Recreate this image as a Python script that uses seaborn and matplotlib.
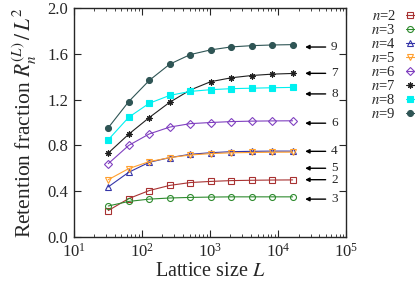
import numpy as np
import pandas as pd
import matplotlib
matplotlib.use("Agg")
import matplotlib.pyplot as plt
import seaborn as sns

# lattice sizes and retention fraction per n
lattice = [32, 64, 128, 256, 512, 1024, 2048, 4096, 8192, 16384]
r_n2 = [0.23, 0.335, 0.405, 0.45, 0.475, 0.485, 0.492, 0.495, 0.497, 0.498]
r_n3 = [0.27, 0.31, 0.33, 0.34, 0.345, 0.348, 0.35, 0.35, 0.35, 0.35]
r_n4 = [0.437, 0.565, 0.652, 0.693, 0.722, 0.736, 0.745, 0.748, 0.75, 0.75]
r_n5 = [0.50, 0.597, 0.658, 0.693, 0.716, 0.728, 0.735, 0.738, 0.74, 0.741]
r_n6 = [0.64, 0.80, 0.90, 0.96, 0.99, 1.0, 1.008, 1.012, 1.014, 1.015]
r_n7 = [0.733, 0.898, 1.043, 1.177, 1.284, 1.357, 1.391, 1.411, 1.423, 1.429]
r_n8 = [0.849, 1.046, 1.168, 1.237, 1.272, 1.287, 1.296, 1.30, 1.304, 1.307]
r_n9 = [0.954, 1.183, 1.368, 1.51, 1.594, 1.635, 1.661, 1.672, 1.678, 1.681]

# limit values marked by arrows on the right
arrow_n = [9, 7, 8, 6, 4, 5, 2, 3]
arrow_val = [1.66, 1.43, 1.25, 0.994, 0.748, 0.60, 0.50, 0.33]

series = {2: r_n2, 3: r_n3, 4: r_n4, 5: r_n5, 6: r_n6, 7: r_n7, 8: r_n8, 9: r_n9}
styles = {
    2: dict(color="#a83232", marker="s", mfc="none"),
    3: dict(color="#2e8b2e", marker="o", mfc="none"),
    4: dict(color="#3535a8", marker="^", mfc="none"),
    5: dict(color="#ffa030", marker="v", mfc="none"),
    6: dict(color="#8040c0", marker="D", mfc="none", ms=3.6),
    7: dict(color="#202020", marker=(8, 2, 0), mfc="none"),
    8: dict(color="#00f0f0", marker="s"),
    9: dict(color="#2f5555", marker="o"),
}

sns.set_style("ticks")
plt.rcParams["font.family"] = ["Liberation Serif", "DejaVu Serif"]
plt.rcParams["mathtext.fontset"] = "stix"

fig = plt.figure(figsize=(4.15, 2.91), dpi=100)
ax = fig.add_axes([0.178, 0.186, 0.656, 0.786])

for n, vals in series.items():
    df = pd.DataFrame({"L": lattice, "R": vals})
    st = dict(styles[n])
    ms = st.pop("ms", 4.3)
    sns.lineplot(data=df, x="L", y="R", ax=ax, lw=0.8, ms=ms, mew=0.8,
                 mec=st["color"], label=f"$n$={n}", **st)

for n, v in zip(arrow_n, arrow_val):
    ax.annotate("", xy=(2.5e4, v), xytext=(5.0e4, v),
                arrowprops=dict(arrowstyle="-|>", color="black", lw=1.0,
                                mutation_scale=6, shrinkA=0, shrinkB=0))
    ax.text(6.0e4, v, str(n), ha="left", va="center", fontsize=9.5)

ax.set_xscale("log")
ax.set_xlim(10, 1e5)
ax.set_ylim(0, 2.0)
ax.set_yticks([0.0, 0.4, 0.8, 1.2, 1.6, 2.0])
ax.set_yticklabels(["0.0", "0.4", "0.8", "1.2", "1.6", "2.0"])
ax.set_xticks([1e1, 1e2, 1e3, 1e4, 1e5])
ax.tick_params(which="both", direction="in", top=True, right=True, labelsize=12)
ax.tick_params(which="major", length=5, width=0.8, pad=4)
ax.tick_params(which="minor", length=2.5, width=0.6)
for s in ax.spines.values():
    s.set_linewidth(1.0)

ax.set_xlabel("Lattice size $L$", fontsize=14.5, labelpad=1)
ax.set_ylabel("Retention fraction $R_n^{(L)}\\,/\\,L^2$", fontsize=15.5, labelpad=6)

handles, labels = ax.get_legend_handles_labels()
ax.legend_.remove()
fig.legend(handles, labels, loc="upper right", bbox_to_anchor=(1.02, 1.0),
           frameon=False, markerfirst=False, handlelength=0.6, handletextpad=0.7,
           labelspacing=0.0, fontsize=10.5, borderaxespad=0.2)

fig.savefig("out.png", dpi=100)
